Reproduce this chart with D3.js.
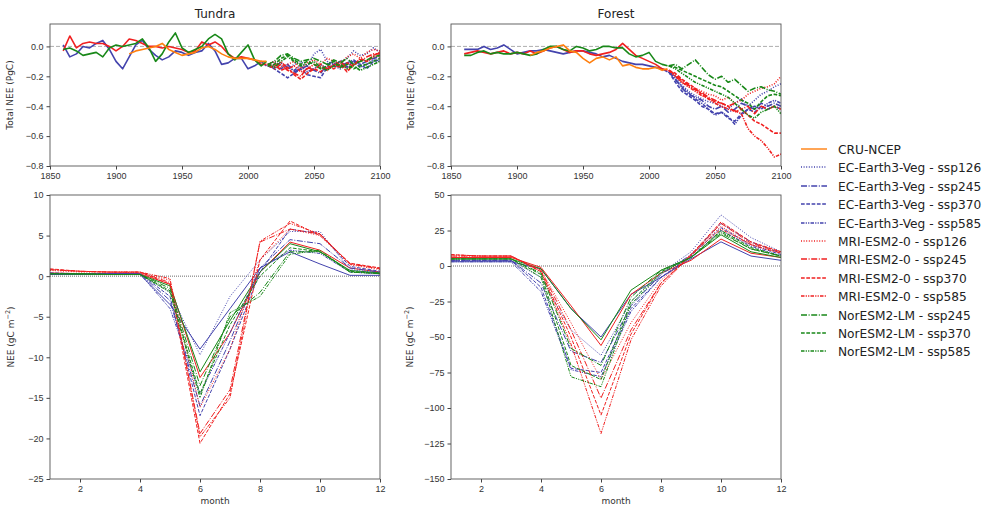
<!DOCTYPE html>
<html>
<head>
<meta charset="utf-8">
<script src="https://cdn.jsdelivr.net/npm/d3@7"></script>
<style>
    body { margin: 0; background: #fff; }
    svg { font-family: 'DejaVu Sans', sans-serif; }
    .tick text { fill: #333; }
</style>
</head>
<body>
<div id="chart"></div>
<script>
// ---- data ----
let histYears = [1860, 1865, 1870, 1875, 1880, 1885, 1890, 1895, 1900, 1905, 1910, 1915, 1920, 1925, 1930, 1935,
    1940, 1945, 1950, 1955, 1960, 1965, 1970, 1975, 1980, 1985, 1990, 1995, 2000, 2005, 2010, 2014];
let futYears = [2015, 2020, 2025, 2030, 2035, 2040, 2045, 2050, 2055, 2060, 2065, 2070, 2075, 2080, 2085, 2090, 2095, 2100];
let months = [1, 2, 3, 4, 5, 6, 7, 8, 9, 10, 11, 12];

let xTicksYear = [1850, 1900, 1950, 2000, 2050, 2100];
let yTicksTotal = [-0.8, -0.6, -0.4, -0.2, 0.0];
let xTicksMonth = [2, 4, 6, 8, 10, 12];
let yTicksTundra = [10, 5, 0, -5, -10, -15, -20, -25];
let yTicksForest = [50, 25, 0, -25, -50, -75, -100, -125, -150];

let seriesNames = ['CRU-NCEP',
    'EC-Earth3-Veg - ssp126', 'EC-Earth3-Veg - ssp245', 'EC-Earth3-Veg - ssp370', 'EC-Earth3-Veg - ssp585',
    'MRI-ESM2-0 - ssp126', 'MRI-ESM2-0 - ssp245', 'MRI-ESM2-0 - ssp370', 'MRI-ESM2-0 - ssp585',
    'NorESM2-LM - ssp245', 'NorESM2-LM - ssp370', 'NorESM2-LM - ssp585'];

// tundra, annual totals (PgC)
let tundraHistCRU = [null, null, null, null, null, null, null, null, null, null, -0.05, -0.03, -0.02, -0.01, 0.0, 0.02,
    -0.02, -0.04, -0.06, -0.05, -0.04, -0.01, 0.0, -0.02, -0.05, -0.07, -0.08, -0.08, -0.08, -0.09, -0.1, -0.1];
let tundraHistEC = [0.01, -0.07, -0.05, 0.0, -0.01, 0.02, 0.04, -0.02, -0.1, -0.15, -0.07, 0.01, 0.04, -0.02, -0.06, -0.09,
    -0.07, -0.03, -0.04, -0.06, -0.04, -0.03, 0.02, -0.03, -0.12, -0.11, -0.08, -0.08, -0.15, -0.13, -0.1, -0.13];
let tundraHistMRI = [-0.03, 0.07, -0.01, 0.02, 0.03, 0.02, 0.02, 0.0, -0.03, 0.0, 0.05, 0.04, 0.02, 0.0, 0.0, -0.01,
    0.0, -0.01, -0.02, -0.04, -0.03, 0.03, 0.01, 0.03, 0.0, -0.05, -0.08, -0.07, -0.08, -0.09, -0.12, -0.12];
let tundraHistNor = [-0.02, -0.01, -0.03, -0.06, -0.05, -0.04, -0.07, -0.01, 0.01, 0.0, 0.01, 0.02, 0.05, -0.01, -0.1, -0.05,
    0.03, 0.09, -0.01, -0.04, -0.02, 0.0, 0.05, 0.08, 0.05, -0.05, -0.09, -0.04, 0.01, -0.09, -0.13, -0.1];

let tundraEC126 = [-0.12, -0.1, -0.13, -0.15, -0.12, -0.1, -0.14, -0.05, -0.02, -0.1, -0.12, -0.1, -0.08, -0.03, -0.06, -0.05, -0.01, -0.04];
let tundraEC245 = [-0.13, -0.14, -0.15, -0.12, -0.17, -0.15, -0.13, -0.16, -0.18, -0.12, -0.1, -0.13, -0.11, -0.09, -0.12, -0.1, -0.08, -0.07];
let tundraEC370 = [-0.13, -0.15, -0.18, -0.21, -0.18, -0.15, -0.19, -0.2, -0.21, -0.14, -0.12, -0.1, -0.14, -0.1, -0.12, -0.15, -0.1, -0.09];
let tundraEC585 = [-0.12, -0.13, -0.11, -0.14, -0.16, -0.13, -0.17, -0.15, -0.12, -0.15, -0.13, -0.15, -0.12, -0.1, -0.14, -0.12, -0.09, -0.1];
let tundraMRI126 = [-0.12, -0.1, -0.14, -0.12, -0.1, -0.15, -0.11, -0.09, -0.12, -0.08, -0.1, -0.12, -0.07, -0.05, -0.08, -0.04, -0.02, -0.03];
let tundraMRI245 = [-0.12, -0.15, -0.12, -0.16, -0.18, -0.2, -0.14, -0.16, -0.12, -0.15, -0.13, -0.1, -0.15, -0.12, -0.1, -0.07, -0.05, -0.05];
let tundraMRI370 = [-0.13, -0.12, -0.16, -0.14, -0.19, -0.22, -0.18, -0.15, -0.17, -0.13, -0.15, -0.12, -0.17, -0.12, -0.09, -0.1, -0.06, -0.04];
let tundraMRI585 = [-0.12, -0.14, -0.1, -0.15, -0.13, -0.17, -0.15, -0.12, -0.14, -0.16, -0.12, -0.14, -0.11, -0.13, -0.08, -0.1, -0.07, -0.06];
let tundraNor245 = [-0.12, -0.1, -0.06, -0.05, -0.08, -0.1, -0.09, -0.08, -0.1, -0.12, -0.09, -0.11, -0.08, -0.12, -0.1, -0.09, -0.07, -0.06];
let tundraNor370 = [-0.13, -0.12, -0.08, -0.06, -0.09, -0.12, -0.1, -0.12, -0.15, -0.13, -0.1, -0.14, -0.12, -0.15, -0.13, -0.12, -0.1, -0.08];
let tundraNor585 = [-0.12, -0.14, -0.1, -0.07, -0.1, -0.13, -0.12, -0.1, -0.14, -0.16, -0.13, -0.12, -0.15, -0.13, -0.16, -0.14, -0.12, -0.1];

// forest, annual totals (PgC)
let forestHistCRU = [null, null, null, null, null, null, null, null, null, null, -0.06, -0.04, -0.03, -0.01, 0.0, 0.01,
    -0.03, -0.04, -0.08, -0.11, -0.08, -0.07, -0.09, -0.07, -0.13, -0.12, -0.14, -0.15, -0.15, -0.14, -0.16, -0.15];
let forestHistEC = [-0.02, -0.02, -0.02, 0.0, -0.02, -0.01, 0.01, -0.02, -0.05, -0.04, -0.03, -0.03, -0.02, -0.03, -0.04, -0.05,
    -0.04, -0.03, -0.03, -0.04, -0.05, -0.07, -0.06, -0.08, -0.1, -0.11, -0.12, -0.12, -0.13, -0.14, -0.15, -0.17];
let forestHistMRI = [-0.05, -0.04, -0.03, -0.04, -0.05, -0.04, -0.03, -0.05, -0.04, -0.05, -0.03, -0.05, -0.03, -0.01, 0.0, -0.02,
    -0.04, -0.03, -0.03, -0.05, -0.06, -0.05, -0.04, -0.02, 0.02, -0.02, -0.06, -0.08, -0.1, -0.12, -0.15, -0.16];
let forestHistNor = [-0.06, -0.06, -0.04, -0.03, -0.05, -0.04, -0.05, -0.05, -0.04, -0.05, -0.06, -0.05, -0.02, 0.0, 0.0, -0.02,
    -0.03, 0.0, -0.01, -0.03, -0.02, 0.0, 0.0, -0.01, -0.01, -0.05, -0.07, -0.06, -0.04, -0.1, -0.12, -0.13];

let forestEC126 = [-0.17, -0.2, -0.26, -0.3, -0.33, -0.35, -0.37, -0.38, -0.4, -0.42, -0.38, -0.35, -0.4, -0.36, -0.32, -0.3, -0.27, -0.25];
let forestEC245 = [-0.17, -0.22, -0.28, -0.32, -0.34, -0.36, -0.4, -0.42, -0.4, -0.44, -0.42, -0.38, -0.4, -0.42, -0.38, -0.4, -0.38, -0.4];
let forestEC370 = [-0.17, -0.24, -0.3, -0.33, -0.36, -0.4, -0.42, -0.45, -0.44, -0.48, -0.5, -0.45, -0.42, -0.44, -0.4, -0.42, -0.4, -0.42];
let forestEC585 = [-0.17, -0.22, -0.27, -0.31, -0.35, -0.38, -0.42, -0.46, -0.44, -0.47, -0.52, -0.46, -0.42, -0.4, -0.42, -0.38, -0.36, -0.38];
let forestMRI126 = [-0.16, -0.2, -0.24, -0.27, -0.28, -0.3, -0.32, -0.33, -0.36, -0.34, -0.38, -0.36, -0.32, -0.3, -0.28, -0.27, -0.25, -0.2];
let forestMRI245 = [-0.16, -0.19, -0.23, -0.26, -0.29, -0.31, -0.34, -0.36, -0.38, -0.4, -0.38, -0.42, -0.4, -0.45, -0.4, -0.42, -0.4, -0.42];
let forestMRI370 = [-0.16, -0.18, -0.22, -0.25, -0.28, -0.32, -0.35, -0.37, -0.38, -0.4, -0.44, -0.42, -0.46, -0.5, -0.52, -0.55, -0.58, -0.58];
let forestMRI585 = [-0.16, -0.2, -0.24, -0.27, -0.3, -0.33, -0.35, -0.38, -0.4, -0.42, -0.43, -0.45, -0.55, -0.6, -0.63, -0.68, -0.74, -0.72];
let forestNor245 = [-0.13, -0.12, -0.15, -0.12, -0.09, -0.14, -0.19, -0.22, -0.2, -0.24, -0.22, -0.26, -0.3, -0.28, -0.27, -0.29, -0.3, -0.32];
let forestNor370 = [-0.13, -0.14, -0.16, -0.18, -0.2, -0.22, -0.24, -0.26, -0.27, -0.3, -0.33, -0.36, -0.38, -0.42, -0.37, -0.33, -0.32, -0.33];
let forestNor585 = [-0.13, -0.15, -0.18, -0.21, -0.24, -0.26, -0.28, -0.3, -0.32, -0.34, -0.38, -0.42, -0.46, -0.48, -0.44, -0.42, -0.4, -0.45];

// tundra, mean seasonal cycle (gC m-2)
let tundraMonHistEC = [0.2, 0.2, 0.2, 0.2, -3.5, -9.0, -4.0, 1.0, 3.0, 1.5, 0.1, 0.1];
let tundraMonHistMRI = [0.4, 0.3, 0.3, 0.3, -1.0, -12.5, -7.0, 0.5, 4.2, 3.2, 1.0, 0.5];
let tundraMonHistNor = [0.3, 0.2, 0.2, 0.2, -1.2, -11.8, -5.5, 0.5, 4.0, 3.0, 0.7, 0.4];
let tundraMonEC126 = [0.3, 0.3, 0.3, 0.3, -2.0, -9.7, -2.5, 2.0, 5.5, 5.5, 0.8, 0.4];
let tundraMonEC245 = [0.3, 0.3, 0.3, 0.3, -3.0, -16.0, -8.0, 1.0, 4.5, 4.0, 1.0, 0.5];
let tundraMonEC370 = [0.4, 0.3, 0.3, 0.3, -2.5, -17.2, -9.0, 0.5, 5.8, 5.2, 1.2, 0.6];
let tundraMonEC585 = [0.3, 0.3, 0.3, 0.3, -4.0, -14.5, -7.0, 1.0, 3.2, 2.8, 0.5, 0.3];
let tundraMonMRI126 = [0.7, 0.5, 0.5, 0.4, -0.5, -16.2, -9.0, 2.0, 5.8, 5.0, 1.4, 0.8];
let tundraMonMRI245 = [0.8, 0.6, 0.5, 0.5, -0.8, -19.4, -14.0, 4.2, 5.8, 5.2, 1.5, 0.9];
let tundraMonMRI370 = [0.9, 0.6, 0.5, 0.5, -1.0, -20.6, -14.5, 2.0, 6.8, 5.0, 1.6, 1.0];
let tundraMonMRI585 = [0.8, 0.6, 0.5, 0.5, -0.3, -19.8, -15.0, 4.3, 6.5, 5.2, 1.5, 1.0];
let tundraMonNor245 = [0.3, 0.3, 0.2, 0.2, -1.5, -13.5, -5.0, -2.0, 3.0, 3.0, 0.5, 0.3];
let tundraMonNor370 = [0.3, 0.3, 0.2, 0.2, -1.8, -14.5, -6.0, 0.0, 3.5, 3.0, 0.6, 0.3];
let tundraMonNor585 = [0.3, 0.3, 0.2, 0.2, -2.0, -15.0, -4.5, -2.5, 2.7, 3.2, 0.5, 0.4];

// forest, mean seasonal cycle (gC m-2)
let forestMonHistEC = [3, 3, 3, -2, -30, -50, -20, -8, 5, 17, 7, 4];
let forestMonHistMRI = [6, 6, 6, -1, -28, -56, -20, -5, 4, 19, 9, 6];
let forestMonHistNor = [5, 5, 5, -2, -30, -52, -17, -3, 6, 22, 10, 6];
let forestMonEC126 = [4, 4, 4, -8, -45, -63, -25, -5, 10, 36, 20, 10];
let forestMonEC245 = [4, 4, 4, -12, -60, -68, -28, -6, 8, 30, 17, 9];
let forestMonEC370 = [4, 4, 4, -15, -72, -75, -30, -8, 7, 27, 15, 8];
let forestMonEC585 = [3, 3, 3, -18, -73, -78, -32, -8, 6, 25, 14, 7];
let forestMonMRI126 = [7, 7, 7, -3, -40, -80, -40, -10, 8, 28, 15, 9];
let forestMonMRI245 = [7, 7, 7, -3, -45, -93, -45, -12, 7, 30, 16, 10];
let forestMonMRI370 = [8, 7, 7, -4, -50, -105, -48, -12, 8, 31, 17, 10];
let forestMonMRI585 = [8, 7, 7, -4, -55, -118, -52, -14, 8, 26, 15, 9];
let forestMonNor245 = [5, 5, 5, -5, -58, -70, -22, -3, 6, 23, 12, 7];
let forestMonNor370 = [5, 5, 5, -6, -70, -80, -25, -4, 6, 25, 13, 7];
let forestMonNor585 = [5, 5, 5, -8, -78, -85, -27, -5, 6, 24, 12, 7];

// ---- styles ----
let cOrange = '#ff7f0e', cBlue = '#4343ad', cRed = '#f02020', cGreen = '#188818';
let dashes = {
    ssp126: '1,1.6',
    ssp245: '6,1.6,1,1.6',
    ssp370: '3.7,1.6',
    ssp585: '3.5,1.2,1.2,1.2,1.2,1.2'
};

// scenario series in plotting order
function scen(ec126, ec245, ec370, ec585, m126, m245, m370, m585, n245, n370, n585) {
    return [
        { v: ec126, c: cBlue, d: dashes.ssp126 }, { v: ec245, c: cBlue, d: dashes.ssp245 },
        { v: ec370, c: cBlue, d: dashes.ssp370 }, { v: ec585, c: cBlue, d: dashes.ssp585 },
        { v: m126, c: cRed, d: dashes.ssp126 }, { v: m245, c: cRed, d: dashes.ssp245 },
        { v: m370, c: cRed, d: dashes.ssp370 }, { v: m585, c: cRed, d: dashes.ssp585 },
        { v: n245, c: cGreen, d: dashes.ssp245 }, { v: n370, c: cGreen, d: dashes.ssp370 },
        { v: n585, c: cGreen, d: dashes.ssp585 }
    ];
}

let svg = d3.select('#chart').append('svg')
    .attr('width', 992)
    .attr('height', 507);

function Panel(opts) {
    this.opts = opts;
    this.init();
}

Panel.prototype.init = function() {
    let vis = this;
    let o = vis.opts;

    vis.g = svg.append('g');
    vis.x = d3.scaleLinear().domain(o.xDomain).range([o.left, o.right]);
    vis.y = d3.scaleLinear().domain(o.yDomain).range([o.bottom, o.top]);

    let clipId = 'clip-' + o.id;
    vis.g.append('clipPath').attr('id', clipId)
        .append('rect')
        .attr('x', o.left).attr('y', o.top)
        .attr('width', o.right - o.left).attr('height', o.bottom - o.top);
    vis.plot = vis.g.append('g').attr('clip-path', 'url(#' + clipId + ')');

    // zero line
    vis.plot.append('line')
        .attr('x1', o.left).attr('x2', o.right)
        .attr('y1', vis.y(0)).attr('y2', vis.y(0))
        .attr('stroke', o.zeroColor)
        .attr('stroke-width', 0.8)
        .attr('stroke-dasharray', o.zeroDash);

    let fmt = o.yFormat || (d => d);
    let xAxis = d3.axisBottom(vis.x).tickValues(o.xTicks).tickSize(3.5).tickPadding(3)
        .tickFormat(d3.format('d'));
    let yAxis = d3.axisLeft(vis.y).tickValues(o.yTicks).tickSize(3.5).tickPadding(3)
        .tickFormat(d => String(fmt(d)).replace('-', '\u2212'));

    vis.g.append('g').attr('transform', 'translate(0,' + o.bottom + ')').call(xAxis)
        .call(g => g.select('.domain').remove())
        .selectAll('text').style('font-size', '9px');
    vis.g.append('g').attr('transform', 'translate(' + o.left + ',0)').call(yAxis)
        .call(g => g.select('.domain').remove())
        .selectAll('text').style('font-size', '9px');
    vis.g.selectAll('.tick line').attr('stroke', '#444');

    if (o.title) {
        vis.g.append('text')
            .attr('x', (o.left + o.right) / 2).attr('y', o.top - 6)
            .attr('text-anchor', 'middle')
            .style('font-size', '12px')
            .attr('fill', '#222')
            .text(o.title);
    }
    if (o.xLabel) {
        vis.g.append('text')
            .attr('x', (o.left + o.right) / 2).attr('y', o.bottom + 25)
            .attr('text-anchor', 'middle')
            .style('font-size', '9px')
            .attr('fill', '#333')
            .text(o.xLabel);
    }
    let yl = vis.g.append('text')
        .attr('transform', 'translate(' + (o.left - o.yLabelOff) + ',' + (o.top + o.bottom) / 2 + ') rotate(-90)')
        .attr('text-anchor', 'middle')
        .style('font-size', '9px')
        .attr('fill', '#333');
    if (o.yLabelSup) {
        yl.append('tspan').text(o.yLabel);
        yl.append('tspan').attr('dy', -4).style('font-size', '6.5px').text(o.yLabelSup);
        yl.append('tspan').attr('dy', 4).text(')');
    } else {
        yl.text(o.yLabel);
    }
}

Panel.prototype.update = function(lines, width) {
    let vis = this;

    lines.forEach(s => {
        let pts = s.xs.map((xv, i) => [xv, s.v[i]]);
        let line = d3.line()
            .defined(d => d[1] !== null)
            .x(d => vis.x(d[0]))
            .y(d => vis.y(d[1]));
        vis.plot.append('path')
            .datum(pts)
            .attr('d', line)
            .attr('fill', 'none')
            .attr('stroke', s.c)
            .attr('stroke-width', width)
            .attr('stroke-dasharray', s.d)
            .attr('stroke-linejoin', 'round');
    });

    // frame on top
    let o = vis.opts;
    vis.g.append('rect')
        .attr('x', o.left).attr('y', o.top)
        .attr('width', o.right - o.left).attr('height', o.bottom - o.top)
        .attr('fill', 'none')
        .attr('stroke', '#555')
        .attr('stroke-width', 0.9);
}

function annualLines(cru, ec, mri, nor, scenarios) {
    let out = [
        { xs: histYears, v: ec, c: cBlue, d: null },
        { xs: histYears, v: mri, c: cRed, d: null },
        { xs: histYears, v: nor, c: cGreen, d: null },
        { xs: histYears, v: cru, c: cOrange, d: null }
    ];
    scenarios.forEach(s => out.push({ xs: futYears, v: s.v, c: s.c, d: s.d }));
    return out;
}

function monthLines(ec, mri, nor, scenarios) {
    let out = [
        { xs: months, v: ec, c: cBlue, d: null },
        { xs: months, v: mri, c: cRed, d: null },
        { xs: months, v: nor, c: cGreen, d: null }
    ];
    scenarios.forEach(s => out.push({ xs: months, v: s.v, c: s.c, d: s.d }));
    return out;
}

let fmt1 = d => d.toFixed(1);

let tl = new Panel({ id: 'tl', left: 50, right: 380, top: 24, bottom: 166, xDomain: [1850, 2100], yDomain: [-0.8, 0.15],
    xTicks: xTicksYear, yTicks: yTicksTotal, yFormat: fmt1, zeroColor: '#999', zeroDash: '4,2',
    title: 'Tundra', yLabel: 'Total NEE (PgC)', yLabelOff: 37 });
tl.update(annualLines(tundraHistCRU, tundraHistEC, tundraHistMRI, tundraHistNor,
    scen(tundraEC126, tundraEC245, tundraEC370, tundraEC585, tundraMRI126, tundraMRI245, tundraMRI370, tundraMRI585,
        tundraNor245, tundraNor370, tundraNor585)), 1.6);

let tr = new Panel({ id: 'tr', left: 451, right: 781, top: 24, bottom: 166, xDomain: [1850, 2100], yDomain: [-0.8, 0.15],
    xTicks: xTicksYear, yTicks: yTicksTotal, yFormat: fmt1, zeroColor: '#999', zeroDash: '4,2',
    title: 'Forest', yLabel: 'Total NEE (PgC)', yLabelOff: 37 });
tr.update(annualLines(forestHistCRU, forestHistEC, forestHistMRI, forestHistNor,
    scen(forestEC126, forestEC245, forestEC370, forestEC585, forestMRI126, forestMRI245, forestMRI370, forestMRI585,
        forestNor245, forestNor370, forestNor585)), 1.6);

let bl = new Panel({ id: 'bl', left: 50, right: 380, top: 195, bottom: 479, xDomain: [1, 12], yDomain: [-25, 10],
    xTicks: xTicksMonth, yTicks: yTicksTundra, zeroColor: '#444', zeroDash: '1,1',
    xLabel: 'month', yLabel: 'NEE (gC m', yLabelSup: '\u22122', yLabelOff: 36 });
bl.update(monthLines(tundraMonHistEC, tundraMonHistMRI, tundraMonHistNor,
    scen(tundraMonEC126, tundraMonEC245, tundraMonEC370, tundraMonEC585, tundraMonMRI126, tundraMonMRI245,
        tundraMonMRI370, tundraMonMRI585, tundraMonNor245, tundraMonNor370, tundraMonNor585)), 1);

let br = new Panel({ id: 'br', left: 451, right: 781, top: 195, bottom: 479, xDomain: [1, 12], yDomain: [-150, 50],
    xTicks: xTicksMonth, yTicks: yTicksForest, zeroColor: '#444', zeroDash: '1,1',
    xLabel: 'month', yLabel: 'NEE (gC m', yLabelSup: '\u22122', yLabelOff: 38 });
br.update(monthLines(forestMonHistEC, forestMonHistMRI, forestMonHistNor,
    scen(forestMonEC126, forestMonEC245, forestMonEC370, forestMonEC585, forestMonMRI126, forestMonMRI245,
        forestMonMRI370, forestMonMRI585, forestMonNor245, forestMonNor370, forestMonNor585)), 1);

// ---- legend ----
let legendStyles = [{ c: cOrange, d: null }].concat(
    scen([], [], [], [], [], [], [], [], [], [], []).map(s => ({ c: s.c, d: s.d })));

let legend = svg.append('g').attr('transform', 'translate(801,149)');
let items = legend.selectAll('g').data(seriesNames).enter()
    .append('g')
    .attr('transform', (d, i) => 'translate(0,' + Math.round(i * 18.4) + ')');
items.append('line')
    .attr('x1', 0).attr('x2', 26)
    .attr('stroke', (d, i) => legendStyles[i].c)
    .attr('stroke-width', 1.4)
    .attr('stroke-dasharray', (d, i) => legendStyles[i].d);
items.append('text')
    .attr('x', 37).attr('y', 4.5)
    .style('font-size', '12.2px')
    .attr('fill', '#222')
    .text(d => d);
</script>
</body>
</html>
